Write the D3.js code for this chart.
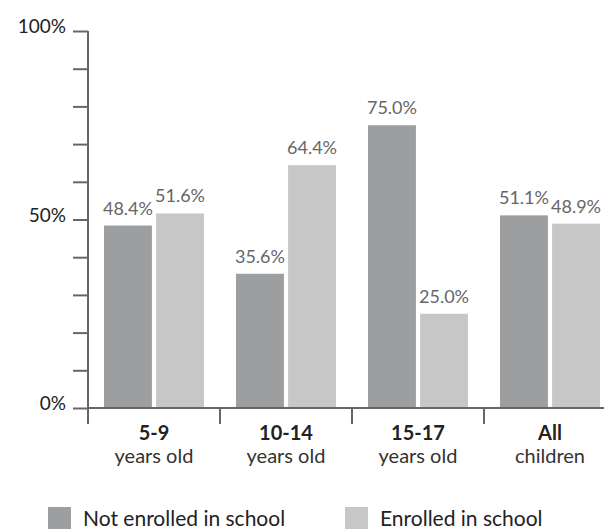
<!DOCTYPE html>
<html>
<head>
<meta charset="utf-8">
<script src="https://cdn.jsdelivr.net/npm/d3@7"></script>
<style>
  body { margin: 0; background: #fff; }
  svg { display: block; font-family: Lato, "Open Sans", sans-serif; }
</style>
</head>
<body>
<div id="chart"></div>
<script>
(function () {

    var CATEGORIES  = ["5-9", "10-14", "15-17", "All"];
    var CAT_SUB     = ["years old", "years old", "years old", "children"];
    var NOT_ENROLLED = [48.4, 35.6, 75.0, 51.1];
    var ENROLLED     = [51.6, 64.4, 25.0, 48.9];
    var Y_TICKS      = [0, 10, 20, 30, 40, 50, 60, 70, 80, 90, 100];
    var Y_LABELS     = [0, 50, 100];

    var SERIES = [
        { key: "notEnrolled", label: "Not enrolled in school", color: "#9d9ea0", values: NOT_ENROLLED },
        { key: "enrolled",    label: "Enrolled in school",     color: "#c7c7c7", values: ENROLLED }
    ];

    var W = 604, H = 529;
    var AXIS = "#666";

    var svg = d3.select("#chart").append("svg")
        .attr("width", W).attr("height", H);

    /* scales */
    var x = d3.scaleBand()
        .domain(CATEGORIES)
        .range([88, 616])
        .paddingInner(0).paddingOuter(0);

    var xSub = d3.scaleBand()
        .domain(SERIES.map(function (s) { return s.key; }))
        .range([16, x.bandwidth() - 16])
        .paddingInner(0.08);

    var y = d3.scaleLinear().domain([0, 100]).range([408, 31]);

    /* bars */
    SERIES.forEach(function (s) {
        var g = svg.append("g").attr("class", "series-" + s.key);
        var rows = CATEGORIES.map(function (c, i) { return { cat: c, v: s.values[i] }; });

        g.selectAll("rect").data(rows).enter().append("rect")
            .attr("x", function (d) { return x(d.cat) + xSub(s.key); })
            .attr("y", function (d) { return y(d.v); })
            .attr("width", xSub.bandwidth())
            .attr("height", function (d) { return y(0) - y(d.v); })
            .attr("fill", s.color);

        g.selectAll("text").data(rows).enter().append("text")
            .attr("x", function (d) { return x(d.cat) + xSub(s.key) + xSub.bandwidth() / 2; })
            .attr("y", function (d) { return y(d.v) - 11; })
            .attr("text-anchor", "middle")
            .attr("font-size", "18px")
            .attr("fill", "#666")
            .text(function (d) { return d.v.toFixed(1) + "%"; });
    });

    /* y axis */
    var yAxis = svg.append("g")
        .attr("transform", "translate(88,0)")
        .call(d3.axisLeft(y).tickValues(Y_TICKS).tickSize(15).tickSizeOuter(0)
            .tickFormat(function (v) { return Y_LABELS.indexOf(v) >= 0 ? v + "%" : ""; }));
    yAxis.select(".domain").remove();
    yAxis.selectAll(".tick line").attr("stroke", AXIS).attr("stroke-width", 2);
    yAxis.selectAll(".tick text")
        .attr("x", -22)
        .attr("dy", "0.1em")
        .attr("font-size", "19px")
        .attr("font-family", "Lato, sans-serif")
        .attr("fill", "#222");

    svg.append("line")
        .attr("x1", 88).attr("x2", 88)
        .attr("y1", y(100)).attr("y2", 424)
        .attr("stroke", AXIS).attr("stroke-width", 2);

    /* x axis */
    svg.append("line")
        .attr("x1", 87).attr("x2", W)
        .attr("y1", y(0)).attr("y2", y(0))
        .attr("stroke", AXIS).attr("stroke-width", 2);

    svg.selectAll(".sep").data(CATEGORIES.slice(1)).enter().append("line")
        .attr("class", "sep")
        .attr("x1", function (c) { return x(c); }).attr("x2", function (c) { return x(c); })
        .attr("y1", y(0)).attr("y2", 424)
        .attr("stroke", AXIS).attr("stroke-width", 2);

    var cat = svg.selectAll(".cat").data(CATEGORIES).enter().append("text")
        .attr("class", "cat")
        .attr("text-anchor", "middle")
        .attr("font-size", "20px")
        .attr("fill", "#222");
    cat.append("tspan")
        .attr("x", function (c) { return x(c) + x.bandwidth() / 2; })
        .attr("y", 440)
        .attr("font-weight", "bold")
        .text(function (c) { return c; });
    cat.append("tspan")
        .attr("x", function (c) { return x(c) + x.bandwidth() / 2; })
        .attr("y", 463)
        .attr("fill", "#333")
        .text(function (c, i) { return CAT_SUB[i]; });

    /* legend */
    var legendX = [48, 345];
    var legend = svg.append("g").attr("class", "legend");
    SERIES.forEach(function (s, i) {
        var g = legend.append("g").attr("transform", "translate(" + legendX[i] + ",507)");
        g.append("rect")
            .attr("width", 23).attr("height", 22)
            .attr("fill", s.color);
        g.append("text")
            .attr("x", 35).attr("y", 19)
            .attr("font-size", "21px")
            .attr("fill", "#222")
            .text(s.label);
    });

}());
</script>
</body>
</html>
